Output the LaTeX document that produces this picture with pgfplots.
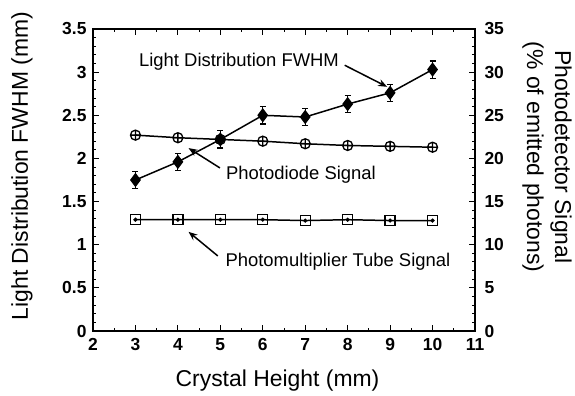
\documentclass[border=0pt]{standalone}
\usepackage{pgfplots}
\pgfplotsset{compat=1.18}
\usepackage{pgfplotstable}
\usepackage{fontspec}
\setmainfont{Liberation Sans}
\usetikzlibrary{arrows.meta}
\pgfplotstableread{
x y err
3 1.75 0.10
4 1.96 0.10
5 2.22 0.10
6 2.50 0.10
7 2.48 0.10
8 2.63 0.10
9 2.76 0.10
10 3.03 0.10
}\fwhm
\pgfplotstableread{
x y
3 22.7
4 22.4
5 22.2
6 22.0
7 21.7
8 21.5
9 21.4
10 21.3
}\pd
\pgfplotstableread{
x y
3 12.9
4 12.9
5 12.9
6 12.9
7 12.8
8 12.9
9 12.8
10 12.8
}\pmt
\begin{document}
\begin{tikzpicture}
\pgfplotsset{every axis/.append style={
  width=382bp, height=302bp, scale only axis,
  xmin=2, xmax=11,
  /pgf/number format/assume math mode=true,
  tick label style={font=\fontsize{17.5}{20}\selectfont\bfseries},
  tick style={black, line width=1pt},
  major tick length=6bp, minor tick length=3bp,
  axis line style={line width=1.4pt},
  clip=false,
}}
\begin{axis}[name=ax,
  ymin=0, ymax=3.5, ytick={0,0.5,...,3.5},
  xtick={2,...,11}, minor x tick num=1, minor y tick num=4,
  ytick pos=left, xtick pos=both,
  yticklabel style={/pgf/number format/fixed, xshift=-3bp},
  xticklabel style={yshift=-4bp},
]
\addplot[black, line width=1.5pt, mark=diamond*, mark size=6bp,
  error bars/.cd, y dir=both, y explicit,
  error mark options={rotate=90, mark size=3bp, line width=1.2pt},
  error bar style={line width=1.2pt}]
  table[x=x, y=y, y error=err] {\fwhm};
\node[font=\fontsize{18.5}{20}\selectfont] at (axis cs:5.44,3.12) {Light Distribution FWHM};
\draw[line width=1.5pt, -{Stealth[length=9bp,width=7bp]}] (axis cs:7.93,3.08) -- (axis cs:8.93,2.83);
\node[font=\fontsize{18.5}{20}\selectfont] at (axis cs:6.90,1.81) {Photodiode Signal};
\draw[line width=1.5pt, -{Stealth[length=9bp,width=7bp]}] (axis cs:4.99,1.89) -- (axis cs:4.25,2.12);
\node[font=\fontsize{18.5}{20}\selectfont] at (axis cs:7.77,0.80) {Photomultiplier Tube Signal};
\draw[line width=1.5pt, -{Stealth[length=9bp,width=7bp]}] (axis cs:4.94,0.87) -- (axis cs:4.25,1.15);
\end{axis}
\begin{axis}[
  ymin=0, ymax=35, ytick={0,5,...,35}, minor y tick num=4,
  axis y line*=right, axis x line=none,
  yticklabel style={xshift=6bp},
]
\addplot[black, line width=1.5pt, mark=oplus, mark size=5bp, mark options={fill=white, line width=1.3pt}] table[x=x,y=y] {\pd};
\addplot[black, line width=1.5pt, mark=square, mark size=5bp, mark options={fill=white, line width=1.3pt}] table[x=x,y=y] {\pmt};
\addplot[black, line width=1.5pt, only marks, mark=*, mark size=1.2bp] table[x=x,y=y] {\pmt};
\end{axis}
\node[rotate=90, font=\fontsize{23}{26}\selectfont] at ([shift={(-71bp,14bp)}]ax.west) {Light Distribution FWHM (mm)};
\node[rotate=-90, align=center, font=\fontsize{23}{28}\selectfont] at ([shift={(72bp,23bp)}]ax.east) {Photodetector Signal\\(\% of emitted photons)};
\node[anchor=base, font=\fontsize{23}{26}\selectfont] at ([shift={(-6.5bp,-55bp)}]ax.south) {Crystal Height (mm)};
\path[use as bounding box] ([shift={(-93bp,-64bp)}]ax.south west) rectangle ([shift={(100bp,29bp)}]ax.north east);
\end{tikzpicture}
\end{document}
